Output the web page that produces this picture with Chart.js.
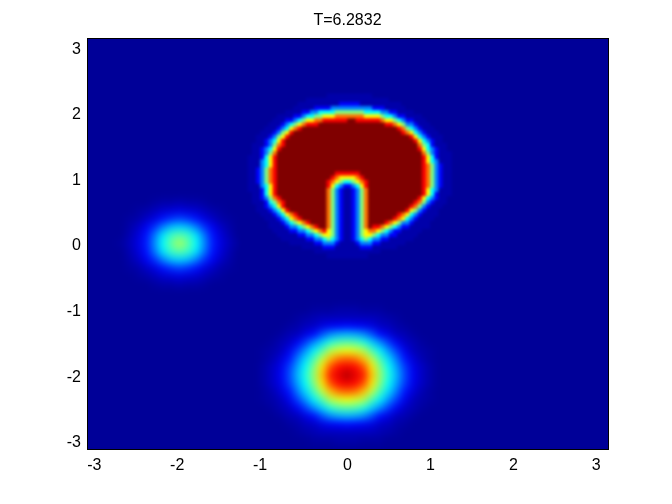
<!DOCTYPE html>
<html lang="en">
<head>
    <meta charset="UTF-8">
    <title>T=6.2832</title>
    <script src="https://cdn.jsdelivr.net/npm/chart.js"></script>
    <style>
        body { margin: 0; background: #fff; }
        #wrap { width: 672px; height: 504px; }
    </style>
</head>
<body>
    <div id="wrap"><canvas id="field" width="672" height="504"></canvas></div>

    <script>
        const titleText = 'T=6.2832';
        const xTickValues = [-3, -2, -1, 0, 1, 2, 3];
        const yTickValues = [-3, -2, -1, 0, 1, 2, 3];
        const xTickLabels = ['-3', '-2', '-1', '0', '1', '2', '3'];
        const yTickLabels = ['-3', '-2', '-1', '0', '1', '2', '3'];

        // slotted disc, one digit per cell
        const discLevels = [0, 0.03, 0.12, 0.25, 0.38, 0.5, 0.63, 0.76, 0.88, 1];
        const discStartX = -1.273, discStepX = 0.05;
        const discStartY = 2.2545, discStepY = 0.0625;
        const red = k => '9'.repeat(k);
        const slot = '7532112357';
        const discRows = [
            '000000000000000000000111111111110000000000000000000',
            '000000000000000011111111111111111111000000000000000',
            '000000000000001111111111222221111111111000000000000',
            '000000000000011111222233333333332221111100000000000',
            '000000000001111223344445555555444433221111000000000',
            '000000000111122344556667777777666654432211110000000',
            '000000001112234566778888889988888876654322111000000',
            '0000000111234567888' + red(16) + '8876533211100000',
            '000000111234678' + red(23) + '8754321110000',
            '0000011123568' + red(26) + '876432111000',
            '000011123568' + red(29) + '8643211100',
            '00001123468' + red(31) + '864321100',
            '00011123578' + red(32) + '75421110',
            '0001123468' + red(33) + '86432110',
            '000112357' + red(35) + '7532111',
            '001112468' + red(35) + '8642111',
            '001113468' + red(35) + '8643111',
            '001113468' + red(35) + '8753211',
            '001123578' + red(35) + '8753211',
            '001123578' + red(14) + '888888' + red(15) + '8753211',
            '001123578' + red(13) + '87666678' + red(14) + '8753211',
            '001123578' + red(12) + '8765445678' + red(13) + '8753211',
            '001113468' + red(12) + '8643223468' + red(13) + '8753211',
            '001112468' + red(12) + slot + red(13) + '8643111',
            '000112468' + red(12) + slot + red(13) + '8642111',
            '0001123578' + red(11) + slot + red(12) + '86432110',
            '00011124578' + red(10) + slot + red(11) + '875321110',
            '00001123468' + red(10) + slot + red(10) + '8753211100',
            '000011123468' + red(9) + slot + red(9) + '86532111000',
            '00000111234678' + red(7) + slot + red(7) + '8764321111000',
            '000000111234678' + red(6) + slot + red(6) + '87643211110000',
            '00000001112345678' + red(4) + slot + red(4) + '8765332111100000',
            '0000000111123345678' + red(2) + slot + red(1) + '8876543221111100000',
            '000000001111223345678' + '6532112356' + '77654322111110000000',
            '000000000111112233456' + '6532112356' + '65433221111100000000',
            '000000000011111122334' + '5432112345' + '43322111111000000000',
            '000000000000111111' + '2233321111233322111111' + '00000000000',
            '000000000000000111112221111112221111110000000000000',
            '000000000000000000111111111111111100000000000000000',
            '000000000000000000000111111111100000000000000000000'
        ];

        // smaller blob left of the centre, percent of the colour range
        const leftStartX = -2.72, leftStepX = 0.1;
        const leftStartY = 0.75, leftStepY = 0.125;
        const leftRows = [
            [0, 0, 0, 0, 1, 1, 1, 1, 1, 1, 1, 0, 0, 0, 0],
            [0, 0, 0, 1, 2, 3, 3, 4, 3, 3, 2, 1, 0, 0, 0],
            [0, 0, 2, 3, 5, 7, 8, 9, 8, 7, 5, 3, 2, 0, 0],
            [0, 2, 3, 6, 9, 14, 17, 19, 17, 14, 9, 6, 3, 2, 0],
            [1, 3, 6, 11, 17, 25, 31, 33, 31, 25, 17, 11, 6, 3, 1],
            [1, 4, 8, 14, 24, 35, 43, 46, 43, 35, 24, 14, 8, 4, 1],
            [2, 5, 9, 15, 26, 38, 47, 54, 47, 38, 26, 15, 9, 5, 2],
            [1, 4, 8, 14, 24, 35, 43, 46, 43, 35, 24, 14, 8, 4, 1],
            [1, 3, 6, 11, 17, 25, 31, 33, 31, 25, 17, 11, 6, 3, 1],
            [0, 2, 3, 6, 9, 14, 17, 19, 17, 14, 9, 6, 3, 2, 0],
            [0, 0, 2, 3, 5, 7, 8, 9, 8, 7, 5, 3, 2, 0, 0],
            [0, 0, 0, 1, 2, 3, 3, 4, 3, 3, 2, 1, 0, 0, 0],
            [0, 0, 0, 0, 1, 1, 1, 1, 1, 1, 1, 0, 0, 0, 0]
        ];

        // larger blob near the bottom, percent of the colour range
        const lowStartX = -1.1, lowStepX = 0.1;
        const lowStartY = -0.885, lowStepY = 0.125;
        const lowRows = [
            [0, 0, 0, 0, 0, 0, 0, 0, 1, 1, 1, 1, 1, 1, 1, 0, 0, 0, 0, 0, 0, 0, 0],
            [0, 0, 0, 0, 0, 1, 1, 2, 2, 2, 3, 3, 3, 2, 2, 2, 1, 1, 0, 0, 0, 0, 0],
            [0, 0, 0, 0, 1, 2, 3, 4, 5, 5, 5, 5, 5, 5, 5, 4, 3, 2, 1, 0, 0, 0, 0],
            [0, 0, 0, 1, 2, 3, 5, 6, 9, 11, 12, 13, 12, 11, 9, 6, 5, 3, 2, 1, 0, 0, 0],
            [0, 0, 1, 2, 4, 5, 9, 13, 20, 26, 29, 30, 29, 26, 20, 13, 9, 5, 4, 2, 1, 0, 0],
            [0, 1, 2, 4, 6, 11, 18, 26, 33, 41, 45, 46, 45, 41, 33, 26, 18, 11, 6, 4, 2, 1, 0],
            [0, 2, 3, 5, 10, 18, 27, 36, 45, 55, 59, 61, 59, 55, 45, 36, 27, 18, 10, 5, 3, 2, 0],
            [1, 2, 4, 8, 14, 24, 34, 44, 56, 69, 76, 78, 76, 69, 56, 44, 34, 24, 14, 8, 4, 2, 1],
            [1, 3, 6, 10, 18, 28, 38, 50, 65, 80, 87, 89, 87, 80, 65, 50, 38, 28, 18, 10, 6, 3, 1],
            [1, 3, 6, 11, 19, 30, 40, 52, 68, 85, 90, 95, 90, 85, 68, 52, 40, 30, 19, 11, 6, 3, 1],
            [1, 3, 6, 10, 18, 28, 38, 50, 65, 80, 87, 89, 87, 80, 65, 50, 38, 28, 18, 10, 6, 3, 1],
            [1, 2, 4, 8, 14, 24, 34, 44, 56, 69, 76, 78, 76, 69, 56, 44, 34, 24, 14, 8, 4, 2, 1],
            [0, 2, 3, 5, 10, 18, 27, 36, 45, 55, 59, 61, 59, 55, 45, 36, 27, 18, 10, 5, 3, 2, 0],
            [0, 1, 2, 4, 6, 11, 18, 26, 33, 41, 45, 46, 45, 41, 33, 26, 18, 11, 6, 4, 2, 1, 0],
            [0, 0, 1, 2, 4, 5, 9, 13, 20, 26, 29, 30, 29, 26, 20, 13, 9, 5, 4, 2, 1, 0, 0],
            [0, 0, 0, 1, 2, 3, 5, 6, 9, 11, 12, 13, 12, 11, 9, 6, 5, 3, 2, 1, 0, 0, 0],
            [0, 0, 0, 0, 1, 2, 3, 4, 5, 5, 5, 5, 5, 5, 5, 4, 3, 2, 1, 0, 0, 0, 0],
            [0, 0, 0, 0, 0, 1, 1, 2, 2, 2, 3, 3, 3, 2, 2, 2, 1, 1, 0, 0, 0, 0, 0],
            [0, 0, 0, 0, 0, 0, 0, 0, 1, 1, 1, 1, 1, 1, 1, 0, 0, 0, 0, 0, 0, 0, 0]
        ];

        // MATLAB jet, the picture's lowest colour sits a little above pure 0
        function jet(value) {
            const v = Math.max(value, 0.01);
            const ramp = t => Math.round(255 * Math.max(0, Math.min(1, t)));
            const r = ramp(Math.min(4 * v - 1.5, -4 * v + 4.5));
            const g = ramp(Math.min(4 * v - 0.5, -4 * v + 3.5));
            const b = ramp(Math.min(3.5 * v + 0.5625, -4 * v + 2.5));
            return `rgb(${r},${g},${b})`;
        }

        function cellDataset(rows, startX, stepX, startY, stepY, toValue, side) {
            const points = [];
            const colors = [];
            rows.forEach((row, i) => {
                Array.from(row).forEach((cell, j) => {
                    points.push({ x: startX + j * stepX, y: startY - i * stepY });
                    colors.push(jet(toValue(cell)));
                });
            });
            return {
                data: points,
                showLine: false,
                pointStyle: 'rect',
                pointRadius: side * Math.SQRT2 / 2,
                pointBorderWidth: 0,
                pointBackgroundColor: colors
            };
        }

        // softens the cells the way shading interp does
        function softenArea(chart, amount) {
            const ctx = chart.ctx;
            const a = chart.chartArea;
            const w = a.right - a.left;
            const h = a.bottom - a.top;
            const copy = document.createElement('canvas');
            copy.width = w;
            copy.height = h;
            copy.getContext('2d').drawImage(chart.canvas, a.left, a.top, w, h, 0, 0, w, h);
            ctx.save();
            ctx.beginPath();
            ctx.rect(a.left, a.top, w, h);
            ctx.clip();
            ctx.filter = `blur(${amount}px)`;
            ctx.drawImage(copy, a.left, a.top);
            ctx.restore();
        }

        const fieldLook = {
            id: 'fieldLook',
            beforeDatasetsDraw(chart) {
                const a = chart.chartArea;
                chart.ctx.save();
                chart.ctx.fillStyle = jet(0);
                chart.ctx.fillRect(a.left, a.top, a.right - a.left, a.bottom - a.top);
                chart.ctx.restore();
            },
            afterDatasetDraw(chart, args) {
                if (args.index === 1) softenArea(chart, 3.5);
                if (args.index === 0) softenArea(chart, 1.7);
            },
            afterDraw(chart) {
                const a = chart.chartArea;
                chart.ctx.save();
                chart.ctx.strokeStyle = '#000';
                chart.ctx.lineWidth = 1;
                chart.ctx.strokeRect(a.left + 0.5, a.top + 0.5, a.right - a.left, a.bottom - a.top - 1);
                chart.ctx.restore();
            }
        };

        const labelFont = { family: '"Liberation Sans", Arial, sans-serif', size: 16 };

        new Chart(document.getElementById('field'), {
            type: 'scatter',
            plugins: [fieldLook],
            data: {
                datasets: [
                    cellDataset(discRows, discStartX, discStepX, discStartY, discStepY, c => discLevels[Number(c)], 5),
                    cellDataset(leftRows, leftStartX, leftStepX, leftStartY, leftStepY, c => c / 100, 9.5),
                    cellDataset(lowRows, lowStartX, lowStepX, lowStartY, lowStepY, c => c / 100, 9.5)
                ]
            },
            options: {
                responsive: false,
                animation: false,
                events: [],
                layout: { padding: { right: 64 } },
                plugins: {
                    legend: { display: false },
                    tooltip: { enabled: false },
                    title: {
                        display: true,
                        text: titleText,
                        color: '#000',
                        fullSize: false,
                        font: { ...labelFont, weight: 'normal', lineHeight: 1 },
                        padding: { top: 13, bottom: 9 }
                    }
                },
                scales: {
                    x: {
                        type: 'linear',
                        min: -Math.PI,
                        max: Math.PI,
                        grid: { display: false, drawTicks: false },
                        border: { display: false },
                        ticks: {
                            color: '#000',
                            font: labelFont,
                            padding: 6,
                            maxRotation: 0,
                            autoSkip: false,
                            // the picture sets its negative labels a few pixels left of the tick
                            callback: (v) => {
                                const label = xTickLabels[xTickValues.indexOf(v)];
                                return v < 0 ? label + '  ' : label;
                            }
                        },
                        afterBuildTicks: (scale) => { scale.ticks = xTickValues.map(value => ({ value })); },
                        afterFit: (scale) => { scale.height = 54; }
                    },
                    y: {
                        type: 'linear',
                        min: -Math.PI,
                        max: Math.PI,
                        grid: { display: false, drawTicks: false },
                        border: { display: false },
                        ticks: {
                            color: '#000',
                            font: labelFont,
                            padding: 6,
                            labelOffset: 2,
                            autoSkip: false,
                            callback: (v) => yTickLabels[yTickValues.indexOf(v)]
                        },
                        afterBuildTicks: (scale) => { scale.ticks = yTickValues.map(value => ({ value })); },
                        afterFit: (scale) => { scale.width = 87; }
                    }
                }
            }
        });
    </script>
</body>
</html>
